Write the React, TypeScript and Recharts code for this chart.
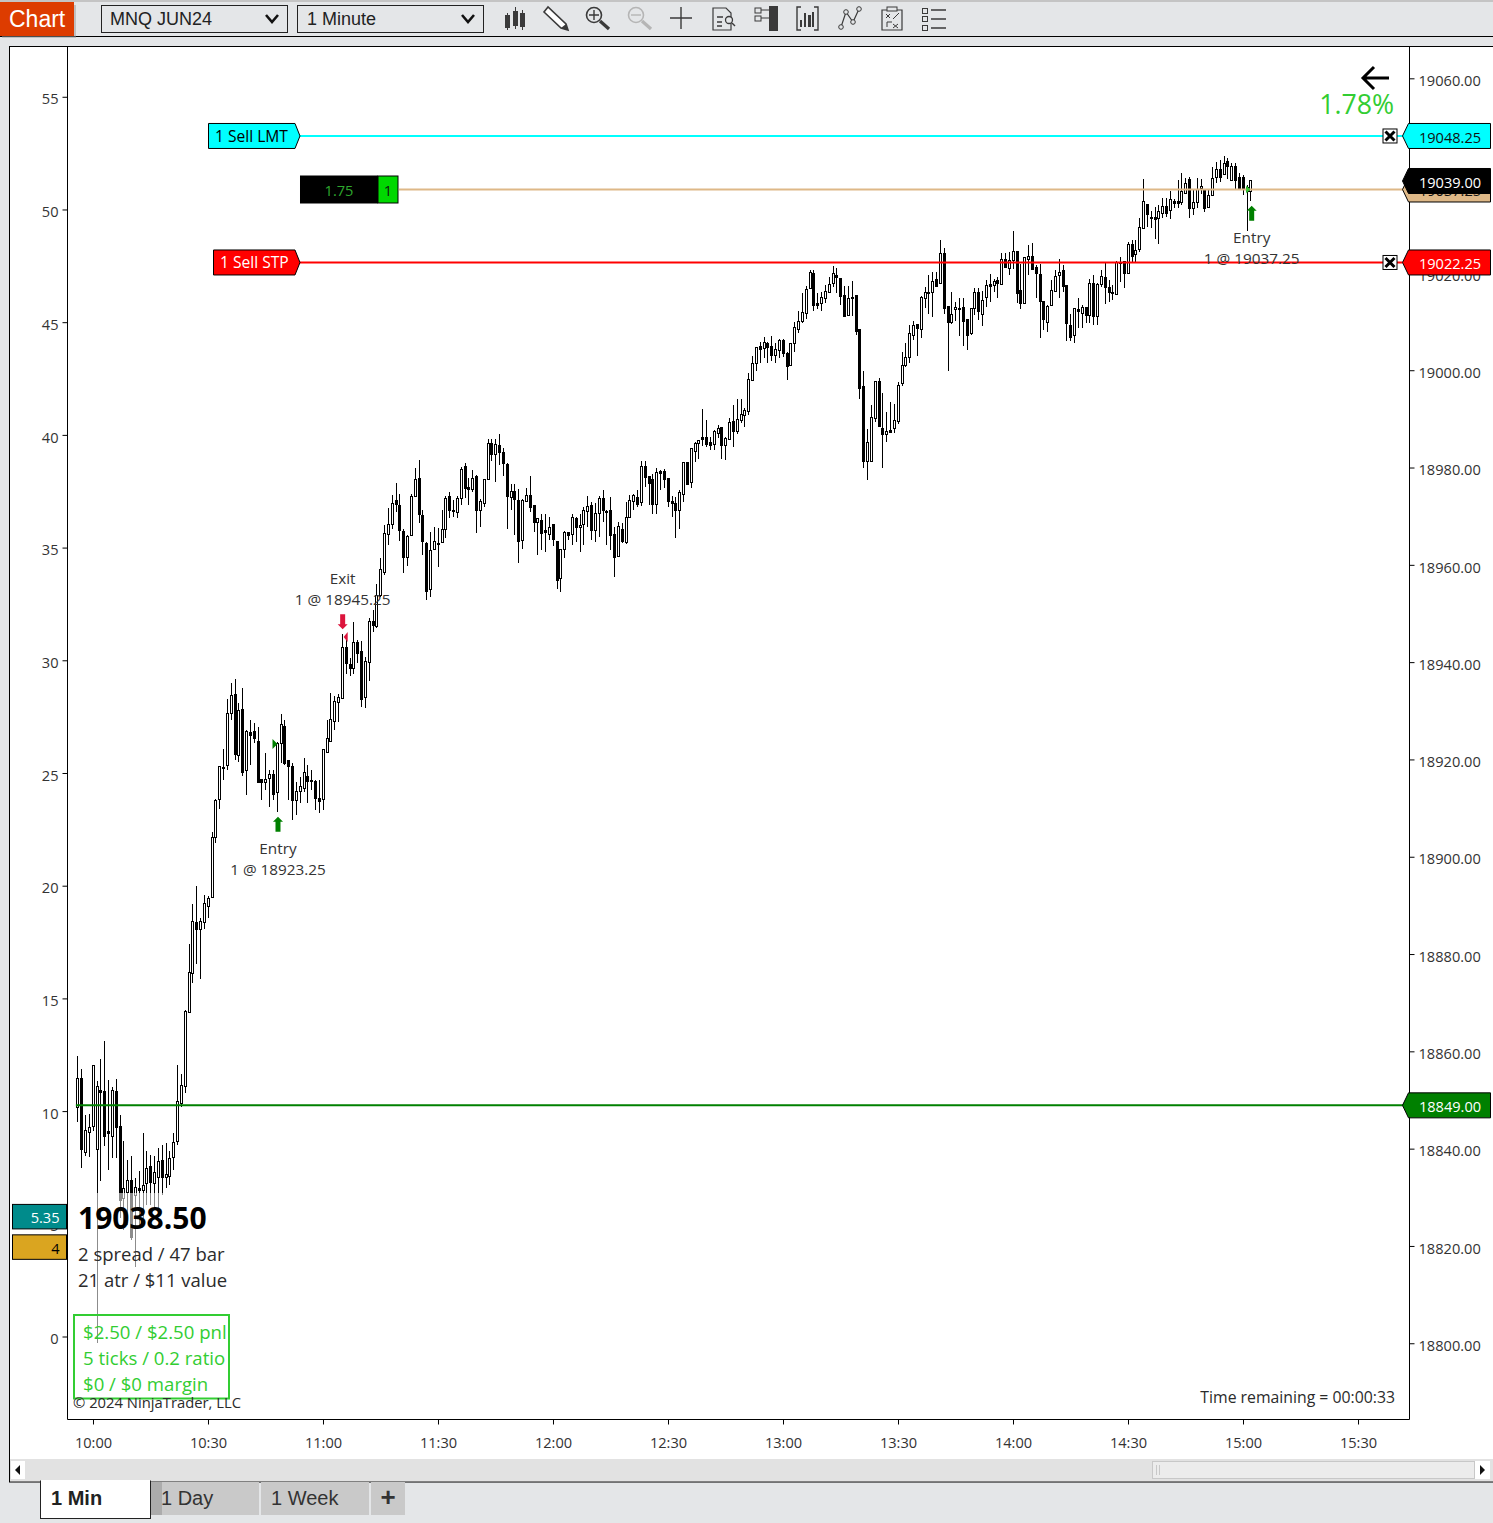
import React from "react";
import { ComposedChart, Bar, XAxis, YAxis, ReferenceLine, ReferenceDot } from "recharts";

type Row = [number, number, number, number]; // open, high, low, close

const openingBars: Row[] = [
[18849.0,18859.3,18845.9,18854.8],[18854.8,18856.7,18836.3,18840.2],[18839.6,18847.3,18838.9,18844.1],[18843.7,18847.5,18838.6,18844.9],
[18845.1,18857.6,18843.9,18857.6],[18840.2,18854.3,18800.4,18853.2],[18852.4,18858.8,18833.6,18851.9],[18852.2,18862.5,18840.8,18843.0],
[18844.0,18854.5,18836.0,18843.6],[18843.0,18853.1,18838.4,18852.5],[18852.2,18854.7,18838.5,18844.9],[18845.1,18847.3,18826.1,18829.8],
[18830.2,18841.9,18823.6,18832.2],[18831.5,18838.0,18824.6,18833.9],[18833.9,18838.9,18821.6,18822.2],[18830.9,18834.3,18816.0,18832.4],
[18832.2,18835.8,18824.6,18831.9],[18831.9,18843.6,18826.1,18832.9],[18833.3,18839.8,18828.8,18836.3],[18836.8,18839.1,18828.8,18833.4],
[18833.3,18838.9,18828.1,18835.5],[18834.5,18840.5,18827.7,18837.8],[18838.0,18841.1,18830.9,18834.6],[18834.6,18841.5,18832.2,18835.2],
[18834.8,18839.8,18832.9,18838.4],[18838.6,18843.5,18836.0,18841.7],[18842.0,18857.6,18841.1,18850.1],[18849.8,18855.6,18849.0,18853.4],
[18853.2,18868.9,18851.7,18868.7],[18868.4,18882.4,18868.3,18876.6],[18876.4,18890.6,18874.5,18887.1],[18886.9,18894.3,18878.4,18885.6],
[18885.4,18887.7,18875.3,18887.1],[18886.9,18892.5,18885.4,18890.8],[18890.3,18892.3,18887.7,18891.8],[18892.1,18905.5,18892.0,18904.5],
[18904.4,18912.2,18903.1,18912.0],[18912.2,18919.1,18910.1,18919.1],[18918.5,18922.6,18916.1,18918.9],[18919.3,18932.7,18918.2,18929.8],
[18930.0,18936.0,18928.5,18933.5],[18933.9,18936.9,18920.2,18921.4],[18921.3,18931.9,18919.9,18930.5],[18930.7,18935.0,18917.0,18917.8],
[18918.2,18926.4,18913.0,18926.2],[18925.9,18928.5,18919.2,18925.4],[18926.2,18927.8,18923.7,18924.7],[18924.1,18927.1,18915.8,18915.8],
[18916.3,18916.3,18912.0,18915.8],[18915.8,18921.7,18914.1,18916.3],[18916.6,18918.2,18910.6,18917.3],[18917.3,18918.2,18912.0,18913.2],
[18913.7,18924.0,18909.6,18923.7],[18923.7,18929.6,18919.6,18927.6],[18927.2,18928.5,18919.2,18919.6],[18920.2,18920.2,18912.0,18919.1],
[18919.0,18919.6,18907.9,18912.0],[18912.0,18915.8,18908.9,18913.9],[18913.9,18916.8,18911.3,18914.8],[18914.4,18920.6,18913.7,18917.7],
];

const lateMorningBars: Row[] = [
[18917.0,18919.2,18911.3,18916.0],[18916.1,18918.2,18914.1,18915.9],[18915.9,18916.1,18910.0,18912.5],[18912.4,18916.1,18909.3,18911.9],
[18912.2,18922.4,18910.0,18922.4],[18921.8,18928.5,18921.8,18924.7],[18924.2,18934.1,18924.2,18928.6],[18928.3,18933.3,18926.4,18932.4],
[18932.1,18933.8,18928.1,18933.1],[18932.9,18946.1,18932.9,18943.4],[18943.4,18945.9,18938.0,18940.1],[18940.0,18941.3,18937.5,18939.1],
[18939.1,18948.7,18938.0,18944.4],[18944.4,18944.9,18940.2,18942.3],[18942.6,18944.6,18931.2,18932.7],[18933.1,18941.5,18931.0,18940.6],
[18940.3,18949.4,18936.5,18948.9],[18948.9,18951.1,18946.6,18947.9],[18947.8,18956.5,18947.4,18954.1],[18954.1,18961.7,18953.8,18959.4],
[18958.9,18968.5,18958.3,18966.8],[18966.7,18972.0,18964.4,18968.7],[18968.7,18974.7,18967.8,18973.0],[18973.7,18977.1,18971.3,18972.8],
[18972.6,18975.0,18965.3,18967.6],[18967.3,18967.8,18958.6,18962.0],[18962.0,18966.5,18960.1,18966.3],[18966.5,18975.0,18966.3,18974.5],
[18974.5,18980.2,18974.4,18977.9],[18978.3,18982.0,18968.9,18970.9],[18970.6,18971.6,18962.4,18965.3],[18964.9,18965.1,18953.1,18955.0],
[18955.3,18967.2,18953.8,18963.4],[18963.6,18968.2,18963.4,18965.2],[18964.8,18968.0,18960.0,18964.7],[18965.1,18971.6,18965.1,18967.8],
[18967.8,18974.5,18965.8,18974.0],[18974.5,18975.4,18969.9,18971.6],[18971.6,18973.7,18970.2,18971.5],[18971.3,18974.5,18969.9,18974.0],
[18974.0,18980.5,18972.6,18980.0],[18980.6,18981.3,18974.0,18976.2],[18976.3,18978.1,18972.6,18975.9],[18975.9,18979.8,18975.4,18978.1],
[18978.6,18978.8,18966.8,18971.7],[18971.7,18973.8,18968.2,18973.5],[18973.0,18977.9,18972.2,18977.9],[18977.9,18986.3,18977.8,18985.3],
[18985.3,18986.3,18981.7,18983.1],[18983.2,18986.3,18977.4,18985.1],[18985.0,18987.2,18980.9,18983.6],[18983.6,18984.3,18978.6,18981.3],
[18981.1,18981.2,18967.8,18974.6],[18974.3,18976.9,18971.7,18975.6],[18975.6,18976.9,18966.5,18973.8],[18973.7,18975.9,18960.8,18965.3],
[18965.4,18973.8,18963.7,18973.7],[18973.5,18976.1,18973.5,18974.7],[18974.7,18978.6,18971.3,18972.3],[18972.6,18972.6,18967.2,18969.2],
];

const middayBars: Row[] = [
[18969.2,18969.9,18962.4,18969.9],[18969.6,18970.9,18963.4,18966.9],[18967.6,18970.9,18963.0,18967.2],[18966.7,18970.1,18965.4,18968.2],
[18968.7,18968.7,18964.2,18965.6],[18965.2,18965.2,18955.3,18957.2],[18957.6,18963.7,18954.8,18963.7],[18963.7,18967.4,18961.7,18967.2],
[18967.2,18967.2,18965.4,18966.5],[18966.6,18970.9,18964.4,18970.1],[18969.9,18970.1,18965.1,18968.2],[18968.2,18970.9,18963.0,18968.6],
[18968.7,18972.2,18964.4,18971.7],[18971.5,18974.5,18968.2,18972.4],[18972.6,18973.3,18965.4,18967.6],[18967.6,18973.0,18965.1,18971.1],
[18971.1,18974.5,18966.1,18974.0],[18974.0,18975.7,18969.2,18971.7],[18971.5,18971.7,18964.4,18971.2],[18971.6,18974.2,18963.5,18966.5],
[18966.6,18968.2,18957.8,18962.0],[18962.2,18969.2,18962.0,18968.3],[18967.8,18969.0,18964.8,18965.3],[18965.1,18973.3,18964.6,18970.1],
[18970.2,18974.7,18970.1,18973.7],[18973.5,18974.9,18971.6,18974.7],[18974.3,18975.7,18972.3,18972.8],[18973.3,18981.7,18972.4,18980.6],
[18980.6,18981.7,18976.4,18978.5],[18978.6,18978.6,18972.6,18977.1],[18977.9,18979.1,18970.8,18972.8],[18972.8,18980.2,18970.9,18979.5],
[18979.6,18979.8,18975.7,18979.3],[18979.6,18980.0,18976.1,18977.9],[18978.1,18978.1,18972.3,18973.5],[18973.4,18974.5,18970.2,18973.0],
[18973.0,18974.2,18965.8,18971.6],[18971.7,18975.7,18967.8,18975.3],[18975.0,18981.4,18973.3,18981.4],[18981.5,18981.5,18976.7,18976.9],
[18977.4,18984.3,18976.1,18984.3],[18983.8,18985.6,18981.5,18985.3],[18985.3,18986.1,18982.2,18986.1],[18986.6,18992.4,18984.7,18986.3],
[18986.7,18990.2,18984.5,18985.2],[18985.5,18986.7,18984.0,18985.0],[18985.2,18988.1,18984.0,18987.8],[18987.5,18989.1,18986.4,18988.5],
[18988.6,18988.6,18982.1,18985.0],[18984.9,18986.7,18981.8,18986.4],[18986.2,18990.5,18986.0,18989.8],[18990.0,18993.2,18984.5,18987.9],
[18987.8,18994.4,18987.3,18990.3],[18990.2,18994.4,18989.5,18991.3],[18991.1,18992.5,18988.6,18992.2],[18991.9,18999.8,18991.2,18998.5],
[18998.4,19003.2,18998.2,19001.8],[19001.8,19005.2,19000.1,19005.2],[19005.4,19006.1,19001.9,19004.8],[19005.0,19007.2,19002.8,19006.1],
];

const earlyAfternoonBars: Row[] = [
[19005.9,19006.1,19001.9,19005.2],[19005.4,19007.3,19002.2,19003.4],[19003.4,19005.9,19001.9,19004.7],[19004.6,19006.7,19002.8,19006.6],
[19006.6,19006.7,19003.0,19003.8],[19003.8,19004.0,18998.4,19001.3],[19001.4,19006.0,19001.2,19005.9],[19005.9,19010.3,19004.2,19009.2],
[19008.8,19012.5,19008.0,19010.5],[19010.5,19016.2,19010.0,19012.3],[19012.2,19017.7,19010.9,19017.0],[19017.3,19020.9,19017.2,19020.5],
[19020.3,19020.9,19012.5,19013.8],[19014.1,19016.2,19012.9,19013.8],[19014.1,19016.5,19012.5,19015.5],[19015.3,19017.9,19014.1,19016.7],
[19016.4,19019.5,19016.2,19018.0],[19018.2,19021.8,19017.4,19020.3],[19020.0,19021.3,19016.3,19019.6],[19019.3,19019.3,19013.8,19015.6],
[19015.8,19017.7,19011.2,19011.6],[19011.8,19017.7,19011.7,19015.3],[19015.5,19018.7,19011.5,19015.3],[19015.8,19015.8,19007.6,19008.5],
[19008.8,19008.8,18994.4,18996.6],[18997.1,19000.1,18980.2,18981.6],[18981.7,18988.2,18977.8,18985.5],[18981.7,18993.3,18981.6,18990.8],
[18990.6,18998.2,18989.8,18998.2],[18998.2,18998.7,18988.6,18988.8],[18988.5,18995.6,18980.3,18987.3],[18987.3,18991.8,18985.5,18987.8],
[18988.0,18993.9,18987.4,18987.7],[18988.4,18993.4,18987.5,18990.1],[18990.0,18998.0,18989.4,18997.3],[18997.8,19004.2,18997.1,19001.4],
[19001.4,19005.9,19001.1,19003.0],[19003.0,19009.6,19001.8,19008.1],[19007.5,19010.5,19006.6,19009.6],[19009.8,19009.9,19003.3,19009.1],
[19008.8,19015.6,19006.9,19015.5],[19015.3,19017.5,19013.2,19016.4],[19016.2,19019.9,19012.0,19016.4],[19016.5,19020.6,19011.2,19018.7],
[19019.1,19020.6,19017.5,19017.7],[19018.2,19027.1,19018.2,19024.4],[19024.4,19025.5,19012.0,19013.2],[19013.5,19013.5,19000.1,19010.3],
[19010.3,19016.4,19009.8,19012.0],[19012.9,19014.4,19010.5,19013.3],[19013.1,19015.1,19007.4,19012.9],[19013.3,19015.1,19005.4,19010.5],
[19010.8,19010.8,19004.6,19007.5],[19008.1,19013.1,19007.6,19013.1],[19013.1,19017.2,19011.7,19016.5],[19016.5,19017.2,19010.7,19012.6],
[19012.0,19016.7,19009.4,19014.8],[19015.5,19019.0,19013.4,19017.8],[19018.1,19020.1,19014.4,19017.7],[19017.8,19019.2,19016.5,19018.7],
];

const closingBars: Row[] = [
[19018.9,19019.6,19015.3,19018.2],[19018.0,19024.5,19017.9,19023.3],[19023.3,19024.5,19021.3,19021.5],[19021.3,19024.7,19019.9,19023.1],
[19023.1,19029.0,19021.1,19024.8],[19024.8,19024.8,19014.2,19016.3],[19016.8,19022.2,19012.9,19014.2],[19014.1,19023.7,19014.1,19023.7],
[19023.3,19026.1,19019.9,19023.9],[19023.9,19026.6,19021.1,19021.1],[19021.5,19022.0,19015.1,19020.3],[19020.1,19022.2,19007.0,19014.6],
[19014.6,19014.6,19008.7,19010.8],[19010.3,19013.7,19008.3,19013.5],[19013.7,19019.0,19013.7,19016.8],[19016.7,19020.9,19016.7,19019.8],
[19020.0,19023.3,19015.1,19020.5],[19020.9,19022.0,19016.5,19017.7],[19017.8,19017.8,19006.4,19010.0],[19009.6,19012.0,19006.4,19007.2],
[19007.6,19013.1,19005.9,19013.1],[19012.9,19015.1,19009.0,19012.6],[19012.2,19013.7,19009.0,19013.3],[19013.3,19013.3,19010.0,19011.8],
[19011.8,19019.2,19010.0,19018.2],[19018.2,19019.9,19009.6,19011.6],[19011.6,19018.3,19009.6,19018.0],[19018.0,19020.9,19017.5,19019.7],
[19019.6,19022.3,19013.9,19017.5],[19017.4,19018.9,19014.4,19016.5],[19016.4,19017.9,19014.8,19016.2],[19016.1,19022.8,19016.0,19022.7],
[19022.4,19023.7,19018.5,19022.7],[19022.8,19022.8,19017.3,19020.4],[19020.4,19026.8,19020.4,19026.3],[19026.3,19027.1,19022.7,19023.8],
[19024.2,19027.2,19022.4,19025.0],[19025.3,19031.6,19024.7,19029.7],[19029.5,19039.6,19029.5,19035.1],[19034.6,19034.6,19029.7,19032.4],
[19031.9,19033.1,19029.5,19031.6],[19031.8,19034.0,19027.3,19031.5],[19031.7,19034.3,19026.2,19033.1],[19032.6,19035.7,19031.6,19034.1],
[19034.1,19035.7,19031.9,19032.6],[19033.3,19037.2,19031.4,19035.5],[19035.1,19035.5,19033.6,19034.8],[19035.1,19039.4,19033.8,19034.8],
[19035.0,19040.8,19034.3,19037.2],[19036.7,19039.8,19036.6,19038.9],[19039.6,19040.0,19031.7,19033.6],[19033.8,19037.4,19032.2,19035.0],
[19035.0,19039.8,19033.6,19037.7],[19037.8,19039.6,19036.6,19038.2],[19037.5,19037.7,19032.9,19033.8],[19034.0,19037.4,19033.8,19036.4],
[19036.4,19042.2,19036.4,19039.8],[19040.1,19043.2,19038.9,19041.8],[19041.8,19043.5,19039.1,19040.1],[19040.6,19044.4,19040.5,19043.0],
[19043.3,19043.9,19039.6,19042.3],[19039.4,19042.9,19039.4,19042.3],[19042.3,19042.9,19037.5,19039.4],[19040.1,19040.8,19037.5,19037.7],
[19040.0,19040.5,19036.4,19037.5],[19037.2,19038.4,19029.0,19038.1],[19037.2,19039.4,19035.2,19039.4],
];

const firstBarMinute = -4; // 09:56, minutes from 10:00
const readOffset = 0.25;
const allRows: Row[] = [...openingBars, ...lateMorningBars, ...middayBars, ...earlyAfternoonBars, ...closingBars];
const candles = allRows.map((r, i) => ({
  minute: firstBarMinute + i,
  open: r[0] - readOffset,
  high: r[1] - readOffset,
  low: r[2] - readOffset,
  close: r[3] - readOffset,
}));

const timeTicks = [0, 30, 60, 90, 120, 150, 180, 210, 240, 270, 300, 330];
const priceTicks = [18800, 18820, 18840, 18860, 18880, 18900, 18920, 18940, 18960, 18980, 19000, 19020, 19040, 19060];
const leftTicks = [0, 5, 10, 15, 20, 25, 30, 35, 40, 45, 50, 55];

const limitPrice = 19048.25;
const avgPrice = 19037.25;
const lastPrice = 19039.0;
const stopPrice = 19022.25;
const basePrice = 18849.0;
const leftTagValues = [
  { value: 5.35, fill: "#008b8b", text: "#ffffff", label: "5.35" },
  { value: 4, fill: "#daa520", text: "#000000", label: "4" },
];
const entryFill = { minute: 48, bar: 52, price: 18923.25, label: "1 @ 18923.25" };
const exitFill = { minute: 65, bar: 69, price: 18945.25, label: "1 @ 18945.25" };
const lastFill = { minute: 302, bar: 306, price: 19037.25, label: "1 @ 19037.25" };

const FONT = "'Open Sans', 'Noto Sans', sans-serif";
const ARIAL = "'Liberation Sans', Arial, sans-serif";
const LIME = "#32cd32";
const INK = "#2b2b2b";
const X_MIN = -6.78;
const X_MAX = 343.3;
const X_FLAG = 53.87;
const X_TAN = 79.7;
const X_TAG = 341.5;
const LEFT_DOMAIN = [-3.66, 57.23];
const PRICE_DOMAIN = [18784.43, 19066.54];

function Candle(props: any) {
  const { x, y, width, height, payload } = props;
  const h = Math.abs(height);
  const top = Math.min(y, y + height);
  const k = h / (payload.high - payload.low);
  const at = (p: number) => top + (payload.high - p) * k;
  const cx = Math.floor(x + width / 2) + 0.5;
  const up = payload.close >= payload.open;
  const bt = Math.round(at(Math.max(payload.open, payload.close))) + 0.5;
  const bb = Math.round(at(Math.min(payload.open, payload.close))) + 0.5;
  return (
    <g shapeRendering="crispEdges">
      <line x1={cx} x2={cx} y1={top} y2={top + h} stroke="#000" strokeWidth={1} />
      <rect x={cx - 1} y={bt} width={2} height={Math.max(bb - bt, 1)} fill={up ? "#fff" : "#000"} stroke="#000" strokeWidth={1} />
    </g>
  );
}

function Flag({ cx, cy, x0, fill, ink, text }: any) {
  const tip = cx;
  const pts = `${x0},${cy - 12.5} ${tip - 5},${cy - 12.5} ${tip},${cy} ${tip - 5},${cy + 12.5} ${x0},${cy + 12.5}`;
  return (
    <g>
      <polygon points={pts} fill={fill} stroke="#000" strokeWidth={1} />
      <text x={x0 + 6.5} y={cy + 6} fontFamily={FONT} fontSize={15.6} fill={ink}>{text}</text>
    </g>
  );
}

function CloseBox({ cx, cy }: any) {
  const x = cx - 26.5;
  return (
    <g>
      <rect x={x} y={cy - 7} width={14} height={14} fill="#fff" stroke="#000" strokeWidth={1} />
      <path d={`M${x + 2.5} ${cy - 4.5} L${x + 11.5} ${cy + 4.5} M${x + 11.5} ${cy - 4.5} L${x + 2.5} ${cy + 4.5}`} stroke="#000" strokeWidth={3} />
    </g>
  );
}

function Tag({ cx, cy, fill, ink, text, height = 12.5 }: any) {
  const l = cx - 7;
  const r = cx + 81;
  const pts = `${l},${cy} ${cx - 1},${cy - height} ${r},${cy - height} ${r},${cy + height} ${cx - 1},${cy + height}`;
  return (
    <g>
      <polygon points={pts} fill={fill} stroke="#000" strokeWidth={1} />
      <text x={cx + 40.5} y={cy + 7} textAnchor="middle" fontFamily={FONT} fontSize={14.6} fill={ink}>{text}</text>
    </g>
  );
}

function UpArrow({ cx, top, fill }: any) {
  const d = `M${cx} ${top} L${cx + 5} ${top + 5} L${cx + 2.5} ${top + 5} L${cx + 2.5} ${top + 15} L${cx - 2.5} ${top + 15} L${cx - 2.5} ${top + 5} L${cx - 5} ${top + 5} Z`;
  return <path d={d} fill={fill} />;
}

function DownArrow({ cx, bottom, fill }: any) {
  const d = `M${cx} ${bottom} L${cx + 5} ${bottom - 5} L${cx + 2.5} ${bottom - 5} L${cx + 2.5} ${bottom - 15} L${cx - 2.5} ${bottom - 15} L${cx - 2.5} ${bottom - 5} L${cx - 5} ${bottom - 5} Z`;
  return <path d={d} fill={fill} />;
}

function Chrome() {
  const g = "#3a3a3a";
  return (
    <svg width={1493} height={1523} style={{ position: "absolute", left: 0, top: 0 }}>
      <rect x={0} y={0} width={1493} height={1523} fill="#e4e6e8" />
      <rect x={0} y={0} width={1493} height={2} fill="#c4c4c4" />
      <rect x={0} y={36} width={1493} height={1} fill="#000" />
      <rect x={2} y={5} width={74} height={33} fill="#999" opacity={0.5} />
      <rect x={0} y={2} width={74} height={34} fill="#dd3c00" />
      <text x={9} y={27} fontFamily={ARIAL} fontSize={23} fill="#fff">Chart</text>
      {[[101, "MNQ JUN24"], [297, "1 Minute"]].map(([x, t]: any) => (
        <g key={t}>
          <rect x={x + 0.5} y={5.5} width={186} height={27} fill="#e4e6e8" stroke="#222" />
          <text x={x + (t === "1 Minute" ? 10 : 9)} y={25} fontFamily={ARIAL} fontSize={18} fill="#222">{t}</text>
          <path d={`M${x + 165} ${15} L${x + 171} ${22} L${x + 177} ${15}`} fill="none" stroke="#111" strokeWidth={2.6} />
        </g>
      ))}
      {/* candles icon */}
      <g fill={g}>
        <rect x={505} y={15} width={5} height={13} /><rect x={507} y={13} width={1} height={17} />
        <rect x={513} y={11} width={5} height={15} /><rect x={515} y={7} width={1} height={22} />
        <rect x={520} y={13} width={5} height={14} /><rect x={522} y={10} width={1} height={20} />
      </g>
      {/* pencil */}
      <path d="M548 7 L544 12 L561 28 L568 30 L566 24 Z" fill="#fff" stroke={g} strokeWidth={1.6} />
      <path d="M561 28 L568 30 L566 24 Z" fill={g} />
      {/* zoom in */}
      <circle cx={594} cy={15} r={7.5} fill="none" stroke={g} strokeWidth={1.6} />
      <path d="M594 10 V20 M589 15 H599" stroke={g} strokeWidth={1.4} />
      <path d="M600 21 L609 29" stroke={g} strokeWidth={3.2} />
      {/* zoom out */}
      <circle cx={636} cy={15} r={7.5} fill="none" stroke="#b5b5b5" strokeWidth={1.6} />
      <path d="M631 15 H641" stroke="#b5b5b5" strokeWidth={1.4} />
      <path d="M642 21 L651 29" stroke="#b5b5b5" strokeWidth={3.2} />
      {/* cross */}
      <path d="M681 7 V29 M670 18 H692" stroke={g} strokeWidth={1.4} />
      {/* doc */}
      <path d="M713 8 H726 L731 13 V30 H713 Z" fill="none" stroke={g} strokeWidth={1.2} />
      <path d="M717 17 H723 M717 22 H722 M717 26 H722" stroke={g} strokeWidth={1.4} />
      <circle cx={729} cy={20} r={3.5} fill="#e4e6e8" stroke={g} strokeWidth={1.3} />
      <path d="M732 23 L735 26" stroke={g} strokeWidth={1.4} />
      {/* data box */}
      <rect x={769} y={6} width={9} height={25} fill={g} />
      <rect x={755} y={8} width={6} height={5} fill="none" stroke={g} /><rect x={755} y={16} width={6} height={5} fill="none" stroke={g} />
      <path d="M761 10 H769 M761 18 H769" stroke={g} />
      {/* bars icon */}
      <path d="M801 7 H797 V30 H801 M814 7 H818 V30 H814" fill="none" stroke={g} strokeWidth={1.4} />
      <g fill={g}><rect x={800} y={20} width={2} height={7} /><rect x={804} y={13} width={2} height={14} /><rect x={808} y={15} width={3} height={12} /><rect x={812} y={12} width={2} height={15} /></g>
      {/* line icon */}
      <path d="M841 27 L846 12 L853 22 L859 9" fill="none" stroke={g} strokeWidth={1.2} />
      <g fill="#e4e6e8" stroke={g}><circle cx={841} cy={27} r={2.3} /><circle cx={846} cy={12} r={2.3} /><circle cx={853} cy={22} r={2.3} /><circle cx={859} cy={9} r={2.3} /></g>
      {/* strategy icon */}
      <path d="M882 10 H902 V30 H882 Z" fill="none" stroke={g} strokeWidth={1.2} />
      <rect x={887} y={7} width={10} height={4} fill="#e4e6e8" stroke={g} />
      <path d="M886 14 L890 18 M890 14 L886 18 M893 24 L898 28 M898 24 L893 28 M887 27 V22 H892 M893 19 L899 13" fill="none" stroke={g} strokeWidth={1} />
      {/* list icon */}
      <g fill="none" stroke={g}>
        <rect x={922.5} y={8.5} width={5} height={5} /><rect x={922.5} y={16.5} width={5} height={5} /><rect x={922.5} y={25.5} width={5} height={5} />
      </g>
      <path d="M931 10 H946 M931 19 H946 M931 28 H946" stroke={g} strokeWidth={1.6} />

      {/* frame */}
      <rect x={9.5} y={46.5} width={1490} height={1435.5} fill="#fff" stroke="#000" />
      <rect x={10} y={1459} width={1483} height={22} fill="#e2e2e2" />
      <rect x={11} y={1461} width={14} height={18} fill="#fff" />
      <path d="M15 1470 L20 1465 V1475 Z" fill="#111" />
      <rect x={1475} y={1461} width={15} height={18} fill="#fff" />
      <path d="M1485 1470 L1480 1465 V1475 Z" fill="#111" />
      <rect x={1152.5} y={1461.5} width={322} height={17} fill="#ececec" stroke="#c8c8c8" />
      <path d="M1156.5 1465 V1475 M1159.5 1465 V1475" stroke="#c8c8c8" />
      {/* tabs */}
      <rect x={150} y={1482} width={109} height={33} fill="#c9c9c9" />
      <rect x={261} y={1482} width={108} height={33} fill="#c9c9c9" />
      <rect x={371} y={1482} width={34} height={33} fill="#c9c9c9" />
      <rect x={150} y={1482} width={12} height={33} fill="#8a8a8a" opacity={0.45} />
      <rect x={40.5} y={1481} width={110} height={37.5} fill="#fff" stroke="#222" />
      <rect x={41} y={1480} width={109} height={3} fill="#fff" />
      <text x={51} y={1505} fontFamily={ARIAL} fontWeight={700} fontSize={20} fill="#222">1 Min</text>
      <text x={161} y={1505} fontFamily={ARIAL} fontSize={20} fill="#333">1 Day</text>
      <text x={271} y={1505} fontFamily={ARIAL} fontSize={20} fill="#333">1 Week</text>
      <text x={388} y={1506} textAnchor="middle" fontFamily={ARIAL} fontWeight={700} fontSize={26} fill="#333">+</text>
    </svg>
  );
}

function Overlay() {
  return (
    <svg width={1493} height={1523} style={{ position: "absolute", left: 0, top: 0 }}>
      <rect x={69} y={1193} width={162} height={222} fill="#fff" opacity={0.55} />
      <text x={78} y={1229} fontFamily={FONT} fontWeight={700} fontSize={30} fill="#000">19038.50</text>
      <text x={78} y={1261} fontFamily={FONT} fontSize={18.5} fill={INK}>2 spread / 47 bar</text>
      <text x={78} y={1287} fontFamily={FONT} fontSize={18.5} fill={INK}>21 atr / $11 value</text>
      <rect x={74} y={1315} width={155} height={83.5} fill="none" stroke={LIME} strokeWidth={2} />
      <text x={83} y={1339} fontFamily={FONT} fontSize={18.6} fill={LIME}>$2.50 / $2.50 pnl</text>
      <text x={83} y={1365} fontFamily={FONT} fontSize={18.6} fill={LIME}>5 ticks / 0.2 ratio</text>
      <text x={83} y={1391} fontFamily={FONT} fontSize={18.6} fill={LIME}>$0 / $0 margin</text>
      <text x={73} y={1408} fontFamily={FONT} fontSize={14.8} fill={INK}>© 2024 NinjaTrader, LLC</text>
      <text x={1395} y={1403} textAnchor="end" fontFamily={FONT} fontSize={15.8} fill={INK}>Time remaining = 00:00:33</text>
      <path d="M1389 78 H1364 M1374 67 L1363 78 L1374 89" fill="none" stroke="#000" strokeWidth={3} />
      <text x={1394} y={114} textAnchor="end" fontFamily={FONT} fontSize={26.7} fill={LIME}>1.78%</text>
    </svg>
  );
}

export default function App() {
  const tickStyle = { fontSize: 14.6, fontFamily: FONT, fill: "#333" };
  const fillLabels = (cx: number, y1: number, y2: number, a: string, b: string) => (
    <g fontFamily={FONT} fontSize={15.3} fill="#333" textAnchor="middle">
      <text x={cx} y={y1}>{a}</text>
      <text x={cx} y={y2}>{b}</text>
    </g>
  );
  return (
    <div style={{ position: "absolute", left: 0, top: 0, width: 1493, height: 1523, overflow: "hidden" }}>
      <Chrome />
      <div style={{ position: "absolute", left: 0, top: 0 }}>
        <ComposedChart
          width={1493}
          height={1523}
          data={candles}
          margin={{ top: 47, right: 0, bottom: 63.5, left: 7.5 }}
        >
          <XAxis
            dataKey="minute"
            type="number"
            domain={[X_MIN, X_MAX]}
            allowDataOverflow
            ticks={timeTicks}
            interval={0}
            height={40}
            tickSize={5}
            tickMargin={13}
            stroke="#000"
            tick={tickStyle}
            tickFormatter={(m: number) => {
              const t = 600 + m;
              return `${Math.floor(t / 60)}:${String(t % 60).padStart(2, "0")}`;
            }}
          />
          <YAxis
            yAxisId="left"
            orientation="left"
            width={60}
            type="number"
            domain={LEFT_DOMAIN}
            allowDataOverflow
            ticks={leftTicks}
            interval={0}
            tickSize={5}
            tickMargin={4}
            stroke="#000"
            tick={{ ...tickStyle, dy: 2 }}
          />
          <YAxis
            yAxisId="price"
            orientation="right"
            width={83.5}
            type="number"
            domain={PRICE_DOMAIN}
            allowDataOverflow
            ticks={priceTicks}
            interval={0}
            tickSize={5}
            tickMargin={4}
            stroke="#000"
            tick={{ ...tickStyle, dy: 2 }}
            tickFormatter={(v: number) => v.toFixed(2)}
          />
          <Bar
            yAxisId="price"
            dataKey={(d: any) => [d.low, d.high]}
            barSize={4}
            isAnimationActive={false}
            shape={(p: any) => <Candle {...p} />}
          />
          <ReferenceLine yAxisId="price" ifOverflow="visible" segment={[{ x: -4.6, y: basePrice }, { x: X_MAX, y: basePrice }]} stroke="#008000" strokeWidth={2} />

          {/* fill labels sit under the order lines */}
          <ReferenceDot yAxisId="price" x={candles[entryFill.bar].minute} y={candles[entryFill.bar].low} ifOverflow="visible" r={0}
            shape={({ cx, cy }: any) => (
              <g>
                <UpArrow cx={cx + 0.5} top={cy + 5} fill="#008000" />
                {fillLabels(cx + 0.5, cy + 42, cy + 63, "Entry", entryFill.label)}
              </g>
            )} />
          <ReferenceDot yAxisId="price" x={candles[lastFill.bar].minute} y={candles[lastFill.bar].low} ifOverflow="visible" r={0}
            shape={({ cx, cy }: any) => (
              <g>
                <UpArrow cx={cx + 0.5} top={cy + 5} fill="#008000" />
                {fillLabels(cx + 0.5, cy + 42, cy + 63, "Entry", lastFill.label)}
              </g>
            )} />
          <ReferenceDot yAxisId="price" x={candles[exitFill.bar].minute} y={candles[exitFill.bar].high} ifOverflow="visible" r={0}
            shape={({ cx, cy }: any) => (
              <g>
                <DownArrow cx={cx} bottom={cy - 5} fill="#dc143c" />
                {fillLabels(cx, cy - 50, cy - 29, "Exit", exitFill.label)}
              </g>
            )} />

          <ReferenceLine yAxisId="price" ifOverflow="visible" segment={[{ x: X_FLAG, y: limitPrice }, { x: X_TAG, y: limitPrice }]} stroke="#00ffff" strokeWidth={2} />
          <ReferenceLine yAxisId="price" ifOverflow="visible" segment={[{ x: X_TAN, y: avgPrice }, { x: X_MAX, y: avgPrice }]} stroke="#deb887" strokeWidth={2} />
          <ReferenceLine yAxisId="price" ifOverflow="visible" segment={[{ x: X_FLAG, y: stopPrice }, { x: X_TAG, y: stopPrice }]} stroke="#ff0000" strokeWidth={2} />

          {/* fill triangles */}
          <ReferenceDot yAxisId="price" x={entryFill.minute} y={entryFill.price} ifOverflow="visible" r={0}
            shape={({ cx, cy }: any) => <path d={`M${cx} ${cy} L${cx - 5} ${cy - 5} V${cy + 5} Z`} fill="#008000" />} />
          <ReferenceDot yAxisId="price" x={lastFill.minute} y={lastFill.price} ifOverflow="visible" r={0}
            shape={({ cx, cy }: any) => <path d={`M${cx - 1} ${cy} L${cx - 5} ${cy - 4} V${cy + 4} Z`} fill="#32cd32" />} />
          <ReferenceDot yAxisId="price" x={exitFill.minute} y={exitFill.price} ifOverflow="visible" r={0}
            shape={({ cx, cy }: any) => <path d={`M${cx + 1} ${cy} L${cx + 5} ${cy - 5} V${cy + 5} Z`} fill="#dc143c" />} />

          {/* order flags */}
          <ReferenceDot yAxisId="price" x={X_FLAG} y={limitPrice} ifOverflow="visible" r={0}
            shape={({ cx, cy }: any) => <Flag cx={cx} cy={cy} x0={208.5} fill="#00ffff" ink="#000" text="1 Sell LMT" />} />
          <ReferenceDot yAxisId="price" x={X_FLAG} y={stopPrice} ifOverflow="visible" r={0}
            shape={({ cx, cy }: any) => <Flag cx={cx} cy={cy} x0={213.5} fill="#ff0000" ink="#fff" text="1 Sell STP" />} />
          <ReferenceDot yAxisId="price" x={X_FLAG} y={avgPrice} ifOverflow="visible" r={0}
            shape={({ cx, cy }: any) => (
              <g>
                <rect x={cx} y={cy - 14} width={78} height={28} fill="#000" />
                <rect x={cx + 78} y={cy - 13.5} width={20} height={27} fill="#00d800" stroke="#000" />
                <text x={cx + 39} y={cy + 7} textAnchor="middle" fontFamily={FONT} fontSize={14.6} fill="#2ea82e">1.75</text>
                <text x={cx + 88} y={cy + 7} textAnchor="middle" fontFamily={FONT} fontSize={14.6} fill="#111">1</text>
              </g>
            )} />
        </ComposedChart>
      </div>
      {/* price tags lie on top of the axes' tick labels */}
      <div style={{ position: "absolute", left: 0, top: 0 }}>
        <ComposedChart
          width={1493}
          height={1523}
          data={candles}
          margin={{ top: 47, right: 83.5, bottom: 103.5, left: 67.5 }}
        >
          <XAxis hide dataKey="minute" type="number" domain={[X_MIN, X_MAX]} allowDataOverflow />
          <YAxis hide yAxisId="left" type="number" domain={LEFT_DOMAIN} allowDataOverflow />
          <YAxis hide yAxisId="price" type="number" domain={PRICE_DOMAIN} allowDataOverflow />
          <ReferenceDot yAxisId="price" x={X_MAX} y={limitPrice} ifOverflow="visible" r={0}
            shape={({ cx, cy }: any) => <g><CloseBox cx={cx} cy={cy} /><Tag cx={cx} cy={cy} fill="#00ffff" ink="#111" text={limitPrice.toFixed(2)} /></g>} />
          <ReferenceDot yAxisId="price" x={X_MAX} y={avgPrice} ifOverflow="visible" r={0}
            shape={({ cx, cy }: any) => <Tag cx={cx} cy={cy} fill="#deb887" ink="#111" text={avgPrice.toFixed(2)} />} />
          <ReferenceDot yAxisId="price" x={X_MAX} y={lastPrice} ifOverflow="visible" r={0}
            shape={({ cx, cy }: any) => <Tag cx={cx} cy={cy} fill="#000" ink="#fff" text={lastPrice.toFixed(2)} />} />
          <ReferenceDot yAxisId="price" x={X_MAX} y={stopPrice} ifOverflow="visible" r={0}
            shape={({ cx, cy }: any) => <g><CloseBox cx={cx} cy={cy} /><Tag cx={cx} cy={cy} fill="#ff0000" ink="#fff" text={stopPrice.toFixed(2)} /></g>} />
          <ReferenceDot yAxisId="price" x={X_MAX} y={basePrice} ifOverflow="visible" r={0}
            shape={({ cx, cy }: any) => <Tag cx={cx} cy={cy} fill="#008000" ink="#fff" text={basePrice.toFixed(2)} />} />
          {leftTagValues.map((t) => (
            <ReferenceDot key={t.label} yAxisId="left" x={X_MIN} y={t.value} ifOverflow="visible" r={0}
              shape={({ cx, cy }: any) => (
                <g>
                  <rect x={cx - 55} y={cy - 12} width={54} height={24.5} fill={t.fill} stroke="#000" />
                  <text x={cx - 8} y={cy + 7} textAnchor="end" fontFamily={FONT} fontSize={14.6} fill={t.text}>{t.label}</text>
                </g>
              )} />
          ))}
        </ComposedChart>
      </div>
      <Overlay />
    </div>
  );
}
